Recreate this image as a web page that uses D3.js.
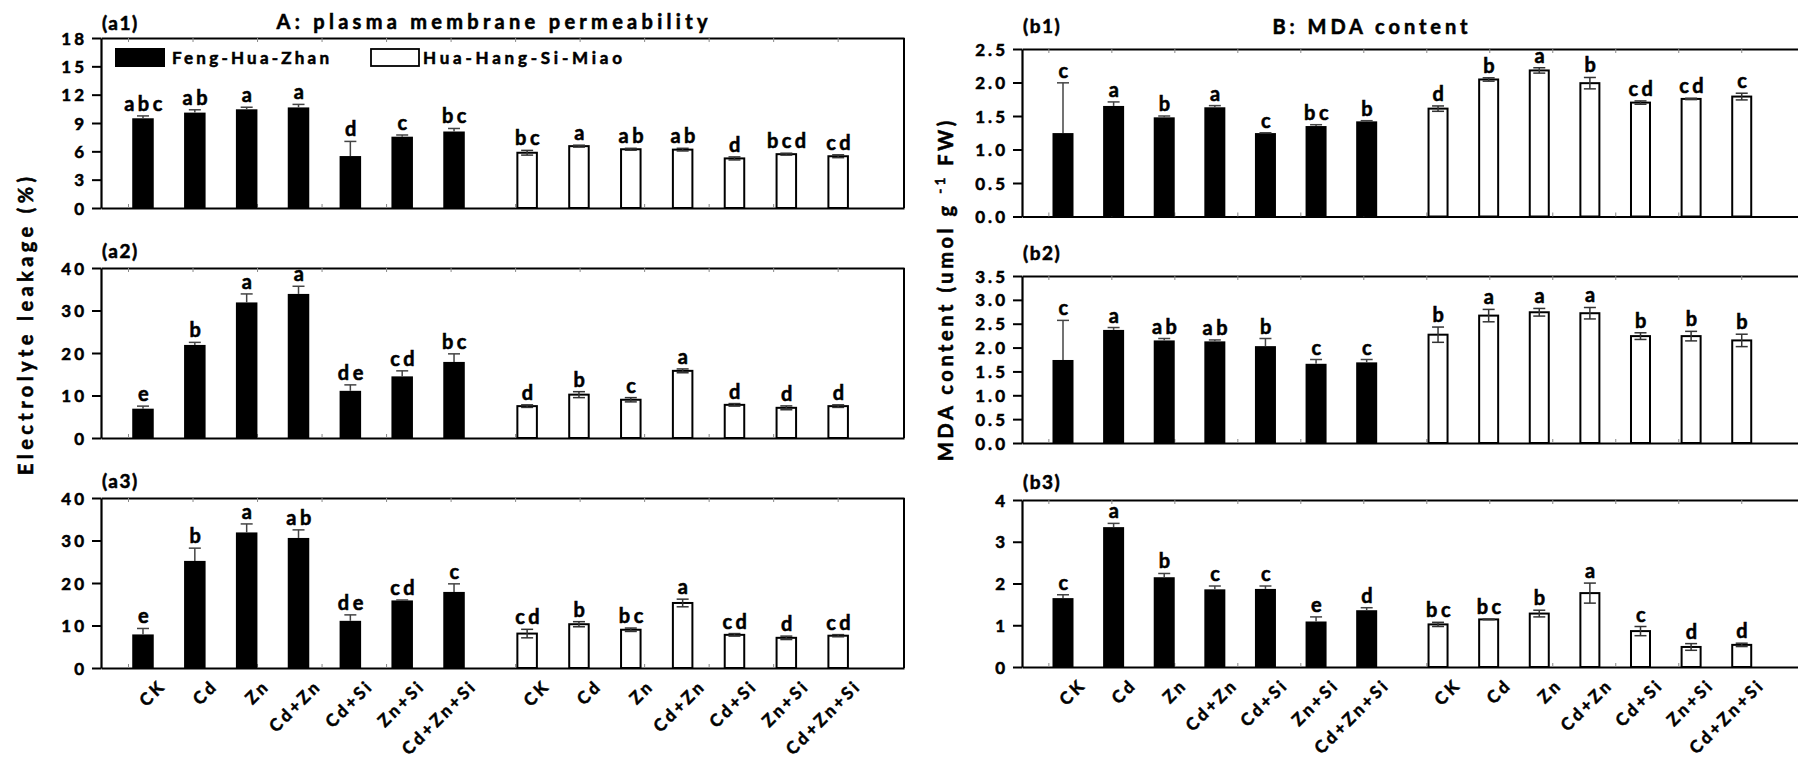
<!DOCTYPE html>
<html><head><meta charset="utf-8">
<script src="https://cdn.jsdelivr.net/npm/d3@7"></script>
<style>
body{margin:0;background:#fff;}
svg{display:block;}
text{font-family:Lato,"Open Sans",sans-serif;font-weight:700;fill:#000;stroke:#000;stroke-width:0.55px;}
</style>
</head><body>
<svg id="chart" width="1798" height="761"></svg>
<script>
// ---------------- data ----------------
const categories = ["CK","Cd","Zn","Cd+Zn","Cd+Si","Zn+Si","Cd+Zn+Si"];
const cultivars = ["Feng-Hua-Zhan","Hua-Hang-Si-Miao"];

const a1Ticks = [0,3,6,9,12,15,18];
const a2Ticks = [0,10,20,30,40];
const a3Ticks = [0,10,20,30,40];
const b1Ticks = [0,0.5,1.0,1.5,2.0,2.5];
const b2Ticks = [0,0.5,1.0,1.5,2.0,2.5,3.0,3.5];
const b3Ticks = [0,1,2,3,4];

const a1Feng = [9.5,10.1,10.45,10.65,5.5,7.55,8.1];
const a1FengErr = [0.25,0.3,0.22,0.32,1.55,0.18,0.32];
const a1Hua = [5.85,6.55,6.22,6.18,5.25,5.7,5.48];
const a1HuaErr = [0.25,0.1,0.1,0.14,0.16,0.1,0.15];
const a1FengSig = ["abc","ab","a","a","d","c","bc"];
const a1HuaSig = ["bc","a","ab","ab","d","bcd","cd"];

const a2Feng = [6.9,21.9,31.9,33.9,11.1,14.5,17.9];
const a2FengErr = [0.6,0.6,2.0,1.8,1.4,1.3,1.9];
const a2Hua = [7.5,10.2,9.0,15.8,7.8,7.1,7.5];
const a2HuaErr = [0.3,0.7,0.5,0.45,0.3,0.45,0.3];
const a2FengSig = ["e","b","a","a","de","cd","bc"];
const a2HuaSig = ["d","b","c","a","d","d","d"];

const a3Feng = [7.9,25.2,31.9,30.6,11.1,15.9,17.9];
const a3FengErr = [1.4,3.0,2.0,1.9,1.4,0.1,1.9];
const a3Hua = [8.1,10.3,9.0,15.3,7.8,7.1,7.6];
const a3HuaErr = [1.0,0.6,0.4,0.9,0.3,0.4,0.25];
const a3FengSig = ["e","b","a","ab","de","cd","c"];
const a3HuaSig = ["cd","b","bc","a","cd","d","cd"];

const b1Feng = [1.245,1.65,1.48,1.63,1.245,1.35,1.42];
const b1FengErr = [0.75,0.06,0.02,0.025,0.005,0.02,0.01];
const b1Hua = [1.61,2.045,2.18,1.99,1.70,1.755,1.79];
const b1HuaErr = [0.04,0.025,0.04,0.085,0.025,0.01,0.05];
const b1FengSig = ["c","a","b","a","c","bc","b"];
const b1HuaSig = ["d","b","a","b","cd","cd","c"];

const b2Feng = [1.74,2.37,2.15,2.13,2.03,1.66,1.69];
const b2FengErr = [0.83,0.05,0.04,0.03,0.16,0.09,0.06];
const b2Hua = [2.27,2.67,2.74,2.72,2.24,2.24,2.15];
const b2HuaErr = [0.16,0.13,0.08,0.12,0.07,0.1,0.13];
const b2FengSig = ["c","a","ab","ab","b","c","c"];
const b2HuaSig = ["b","a","a","a","b","b","b"];

const b3Feng = [1.65,3.35,2.15,1.86,1.87,1.09,1.36];
const b3FengErr = [0.08,0.09,0.09,0.08,0.07,0.11,0.06];
const b3Hua = [1.02,1.14,1.28,1.77,0.86,0.48,0.53];
const b3HuaErr = [0.05,0.005,0.08,0.24,0.11,0.08,0.04];
const b3FengSig = ["c","a","b","c","c","e","d"];
const b3HuaSig = ["bc","bc","b","a","c","d","d"];

// ---------------- layout ----------------
const W = 1798, H = 761;
const svg = d3.select("#chart");
svg.append("rect").attr("width",W).attr("height",H).attr("fill","#fff");

const GROUP_OFFSET = 7.41;
const X_DOMAIN = [-0.81, 14.68];
const BAR_FRAC = 0.415;

const panels = [
  {label:"(a1)", x0:101, x1:904, top:38, h:170, labelY:30, dom:[0,18], ticks:a1Ticks, fmt:d3.format("d"),
   vals:[a1Feng,a1Hua], errs:[a1FengErr,a1HuaErr], sigs:[a1FengSig,a1HuaSig], rightBorder:true, xlabels:false, legend:true},
  {label:"(a2)", x0:101, x1:904, top:268, h:170, labelY:258, dom:[0,40], ticks:a2Ticks, fmt:d3.format("d"),
   vals:[a2Feng,a2Hua], errs:[a2FengErr,a2HuaErr], sigs:[a2FengSig,a2HuaSig], rightBorder:true, xlabels:false},
  {label:"(a3)", x0:101, x1:904, top:498, h:170, labelY:488, dom:[0,40], ticks:a3Ticks, fmt:d3.format("d"),
   vals:[a3Feng,a3Hua], errs:[a3FengErr,a3HuaErr], sigs:[a3FengSig,a3HuaSig], rightBorder:true, xlabels:true},
  {label:"(b1)", x0:1022, x1:1806, top:49, h:167.5, labelY:33, dom:[0,2.5], ticks:b1Ticks, fmt:d3.format(".1f"),
   vals:[b1Feng,b1Hua], errs:[b1FengErr,b1HuaErr], sigs:[b1FengSig,b1HuaSig], rightBorder:false, xlabels:false},
  {label:"(b2)", x0:1022, x1:1806, top:276, h:167, labelY:260, dom:[0,3.5], ticks:b2Ticks, fmt:d3.format(".1f"),
   vals:[b2Feng,b2Hua], errs:[b2FengErr,b2HuaErr], sigs:[b2FengSig,b2HuaSig], rightBorder:false, xlabels:false},
  {label:"(b3)", x0:1022, x1:1806, top:500, h:167, labelY:489, dom:[0,4], ticks:b3Ticks, fmt:d3.format("d"),
   vals:[b3Feng,b3Hua], errs:[b3FengErr,b3HuaErr], sigs:[b3FengSig,b3HuaSig], rightBorder:false, xlabels:true}
];

panels.forEach(p => {
  const g = svg.append("g");
  const x = d3.scaleLinear().domain(X_DOMAIN).range([p.x0, p.x1]);
  const y = d3.scaleLinear().domain(p.dom).range([p.top + p.h, p.top]);
  const step = x(1) - x(0);
  const bw = step * BAR_FRAC;

  const minorStep = step * 1.2445;
  const minorVals = d3.range(12).map(k => x.invert(x(-0.289) + k*minorStep));
  g.append("g").attr("transform",`translate(0,${y(p.dom[0])})`)
    .call(d3.axisBottom(x).tickValues(minorVals).tickSize(-4).tickSizeOuter(0).tickFormat(""))
    .call(s => s.select(".domain").attr("stroke","#000").attr("stroke-width",2.2))
    .call(s => s.selectAll(".tick line").attr("stroke","#888").attr("stroke-width",1));
  g.append("g").attr("transform",`translate(0,${y(p.dom[1])})`)
    .call(d3.axisTop(x).tickValues(minorVals).tickSize(-4).tickSizeOuter(0).tickFormat(""))
    .call(s => s.select(".domain").attr("stroke","#000").attr("stroke-width",2.2))
    .call(s => s.selectAll(".tick line").attr("stroke","#888").attr("stroke-width",1));
  if (p.rightBorder) {
    g.append("line").attr("x1",p.x1).attr("x2",p.x1).attr("y1",y(p.dom[0])).attr("y2",y(p.dom[1]))
      .attr("stroke","#000").attr("stroke-width",2);
  }

  const ya = g.append("g").attr("transform",`translate(${p.x0},0)`)
    .call(d3.axisLeft(y).tickValues(p.ticks).tickFormat(p.fmt).tickSize(9).tickPadding(5).tickSizeOuter(0));
  ya.select(".domain").attr("stroke","#000").attr("stroke-width",2.2);
  ya.selectAll(".tick line").attr("stroke","#000").attr("stroke-width",2);
  ya.selectAll(".tick text").attr("fill","#000").attr("stroke","#000").attr("stroke-width",0.55)
    .style("font-family","Lato, 'Open Sans', sans-serif")
    .style("font-weight","700").style("font-size","17px").style("letter-spacing","3px").attr("dy","0.36em");

  p.vals.forEach((vals, gi) => {
    vals.forEach((v, i) => {
      const cx = x(gi*GROUP_OFFSET + i);
      const e = p.errs[gi][i];
      if (gi === 0) {
        g.append("rect").attr("x",cx-bw/2).attr("y",y(v)).attr("width",bw).attr("height",y(0)-y(v)).attr("fill","#000");
        g.append("line").attr("x1",cx).attr("x2",cx).attr("y1",y(v)).attr("y2",y(v+e)).attr("stroke","#444").attr("stroke-width",1.5);
        g.append("line").attr("x1",cx-6).attr("x2",cx+6).attr("y1",y(v+e)).attr("y2",y(v+e)).attr("stroke","#444").attr("stroke-width",1.5);
      } else {
        g.append("rect").attr("x",cx-bw/2+1).attr("y",y(v)).attr("width",bw-2).attr("height",y(0)-y(v))
          .attr("fill","#fff").attr("stroke","#000").attr("stroke-width",2);
        g.append("line").attr("x1",cx).attr("x2",cx).attr("y1",y(v-e)).attr("y2",y(v+e)).attr("stroke","#333").attr("stroke-width",1.5);
        [v-e, v+e].forEach(t => g.append("line").attr("x1",cx-6).attr("x2",cx+6).attr("y1",y(t)).attr("y2",y(t)).attr("stroke","#333").attr("stroke-width",1.5));
      }
      g.append("text").attr("x",cx + 2).attr("y",y(v+e)-5).attr("text-anchor","middle")
        .style("font-size","20px").style("letter-spacing","3.5px").text(p.sigs[gi][i]);
      if (p.xlabels) {
        g.append("text").attr("transform",`translate(${cx+24},${y(0)+19}) rotate(-45)`)
          .attr("text-anchor","end").style("font-size","17px").style("letter-spacing","3px").text(categories[i]);
      }
    });
  });

  g.append("text").attr("x",p.x0+1).attr("y",p.labelY).style("font-size","19px").style("letter-spacing","1.5px").text(p.label);

  if (p.legend) {
    const lg = g.append("g");
    lg.append("rect").attr("x",115).attr("y",48).attr("width",50).attr("height",19).attr("fill","#000");
    lg.append("text").attr("x",172).attr("y",64).attr("textLength",157).attr("lengthAdjust","spacing")
      .style("font-size","17px").text(cultivars[0]);
    lg.append("rect").attr("x",371).attr("y",49).attr("width",48).attr("height",17).attr("fill","#fff").attr("stroke","#000").attr("stroke-width",1.8);
    lg.append("text").attr("x",423).attr("y",64).attr("textLength",199).attr("lengthAdjust","spacing")
      .style("font-size","17px").text(cultivars[1]);
  }
});

svg.append("text").attr("x",492).attr("y",29).attr("text-anchor","middle").style("font-size","20px")
  .attr("textLength",431).attr("lengthAdjust","spacing").text("A: plasma membrane permeability");
svg.append("text").attr("x",1370).attr("y",34).attr("text-anchor","middle").style("font-size","20px")
  .attr("textLength",195).attr("lengthAdjust","spacing").text("B: MDA content");

svg.append("text").attr("transform","translate(33,326) rotate(-90)").attr("text-anchor","middle")
  .style("font-size","20px").attr("textLength",298).attr("lengthAdjust","spacing").text("Electrolyte leakage (%)");
const mda = svg.append("text").attr("transform","translate(953,289) rotate(-90)").attr("text-anchor","middle")
  .style("font-size","20px").style("letter-spacing","3.6px");
mda.append("tspan").text("MDA content (umol g ");
mda.append("tspan").attr("dy",-8).style("font-size","13px").text("-1");
mda.append("tspan").attr("dy",8).text(" FW)");
</script>
</body></html>
